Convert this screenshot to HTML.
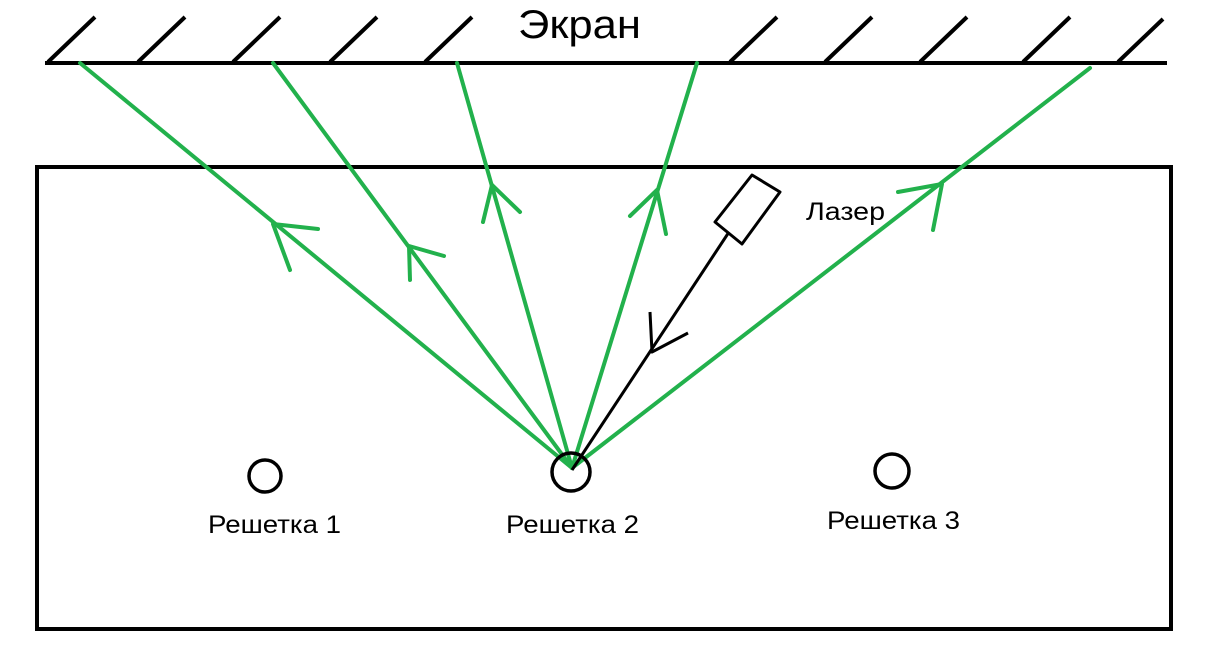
<!DOCTYPE html>
<html><head><meta charset="utf-8"><style>
html,body{margin:0;padding:0;background:#fff;width:1212px;height:660px;overflow:hidden}
svg text{font-family:"Liberation Sans","DejaVu Sans",sans-serif;fill:#000}
</style></head><body>
<svg width="1212" height="660" viewBox="0 0 1212 660">
<g stroke="#000" stroke-width="4" fill="none">
<line x1="45" y1="63" x2="1167" y2="63"/>
<path d="M48 62L95 17M138 62L185 17M233 62L280 17M330 62L377 17M425 62L472 17M730 62L777 17M825 62L872 17M920 62L967 17M1023 62L1070 17M1118 62L1163 19"/>
</g>
<text x="518" y="38" font-size="40" textLength="123" lengthAdjust="spacingAndGlyphs">Экран</text>
<rect x="37" y="167" width="1134" height="462" fill="none" stroke="#000" stroke-width="4"/>
<g stroke="#22b14c" stroke-width="4" fill="none" stroke-linecap="round" stroke-linejoin="round">
<line x1="572" y1="468" x2="80" y2="63"/>
<line x1="572" y1="468" x2="273" y2="63"/>
<line x1="572" y1="468" x2="457" y2="63"/>
<line x1="572" y1="468" x2="697" y2="63"/>
<line x1="572" y1="468" x2="1090" y2="68"/>
<path d="M318 229L273 224L290 270"/>
<path d="M444 256L409 246L410 280"/>
<path d="M520 212L492 185L483 222"/>
<path d="M630 216L657 190L666 234"/>
<path d="M898 192L942 184L933 230"/>
</g>
<g stroke="#000" stroke-width="3" fill="none" stroke-linejoin="round">
<line x1="572" y1="470" x2="729" y2="232"/>
<polygon points="715,222 752,175 780,192 742,244"/>
<path d="M650 312L652 352L688 333"/>
</g>
<g stroke="#000" stroke-width="3.5" fill="none">
<circle cx="265" cy="476" r="16"/>
<circle cx="571" cy="472" r="19"/>
<circle cx="892" cy="471" r="17"/>
</g>
<text x="208" y="533" font-size="25" textLength="133" lengthAdjust="spacingAndGlyphs">Решетка 1</text>
<text x="506" y="533" font-size="25" textLength="133" lengthAdjust="spacingAndGlyphs">Решетка 2</text>
<text x="827" y="529" font-size="25" textLength="133" lengthAdjust="spacingAndGlyphs">Решетка 3</text>
<text x="806" y="220" font-size="25" textLength="79" lengthAdjust="spacingAndGlyphs">Лазер</text>
</svg>
</body></html>
